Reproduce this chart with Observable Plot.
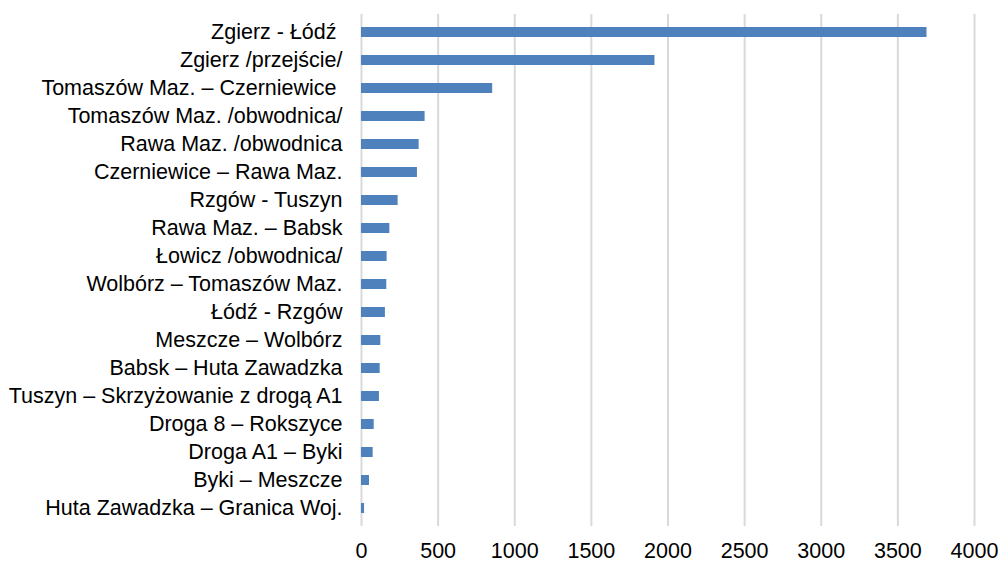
<!DOCTYPE html>
<html>
<head>
<meta charset="utf-8">
<script src="https://cdn.jsdelivr.net/npm/d3@7"></script>
<script src="https://cdn.jsdelivr.net/npm/@observablehq/plot@0.6"></script>
<style>
  html, body { margin: 0; padding: 0; background: #fff; }
  svg { display: block; }
</style>
</head>
<body>
<div id="chart"></div>
<script>
const categories = [
  "Zgierz - Łódź ",
  "Zgierz /przejście/",
  "Tomaszów Maz. – Czerniewice ",
  "Tomaszów Maz. /obwodnica/",
  "Rawa Maz. /obwodnica",
  "Czerniewice – Rawa Maz.",
  "Rzgów - Tuszyn",
  "Rawa Maz. – Babsk",
  "Łowicz /obwodnica/",
  "Wolbórz – Tomaszów Maz.",
  "Łódź - Rzgów",
  "Meszcze – Wolbórz",
  "Babsk – Huta Zawadzka",
  "Tuszyn – Skrzyżowanie z drogą A1",
  "Droga 8 – Rokszyce",
  "Droga A1 – Byki",
  "Byki – Meszcze",
  "Huta Zawadzka – Granica Woj."
];
const values = [3690, 1915, 856, 415, 376, 365, 239, 185, 167, 165, 156, 126, 122, 117, 83, 76, 52, 20];
const xTicks = [0, 500, 1000, 1500, 2000, 2500, 3000, 3500, 4000];

const data = categories.map((c, i) => ({ name: c, value: values[i] }));

const chart = Plot.plot({
  width: 1002,
  height: 563,
  marginLeft: 361,
  marginRight: 28,
  marginTop: 14,
  marginBottom: 37,
  style: { fontFamily: "Liberation Sans, Arial, sans-serif", fontSize: "21.5px", color: "#000", background: "#fff" },
  x: { domain: [0, 4000], ticks: xTicks, label: null },
  y: { domain: categories, paddingInner: 0.65, paddingOuter: 0.325, label: null },
  marks: [
    Plot.gridX(xTicks, { stroke: "#d9d9d9", strokeOpacity: 1, strokeWidth: 2 }),
    Plot.barX(data, { x: "value", y: "name", fill: "#4f81bd" }),
    Plot.axisX({ ticks: xTicks, tickSize: 0, tickPadding: 16, fontSize: 21.5, fill: "#000", label: null,
      tickFormat: d => String(d) }),
    Plot.axisY({ tickSize: 0, tickPadding: 19, fontSize: 21.5, fill: "#000", label: null,
      tickFormat: d => d.replace(/ $/, "\u00a0") })
  ]
});
document.getElementById("chart").append(chart);
</script>
</body>
</html>
